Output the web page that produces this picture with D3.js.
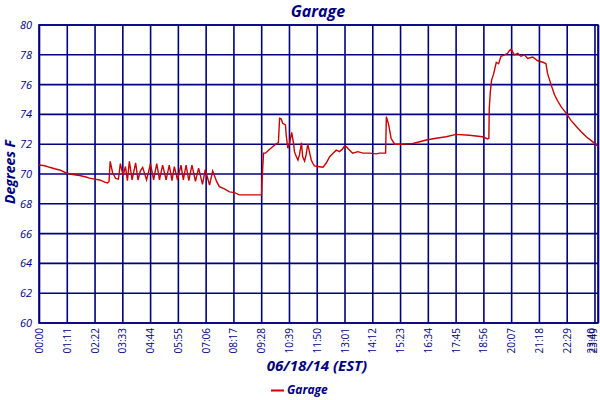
<!DOCTYPE html>
<html>
<head>
<meta charset="utf-8">
<script src="https://cdn.jsdelivr.net/npm/d3@7"></script>
<style>
  body { margin: 0; background: #fff; }
  text { font-family: "Open Sans", "DejaVu Sans", sans-serif; fill: #000080; }
</style>
</head>
<body>
<svg id="chart"></svg>
<script>
// readings of the garage sensor, 06/18/14
const times = [
  '00:00','00:15','00:27','00:40','00:53','01:11','01:30','01:44','02:00','02:09','02:22','02:35','02:48','02:55',
  '02:59','03:02','03:08','03:16','03:23','03:28','03:35','03:41','03:46','03:51','03:58','04:07','04:13','04:19',
  '04:25','04:35','04:45','04:53','05:01','05:08','05:16','05:25','05:33','05:40','05:46','05:54','06:03','06:09',
  '06:16','06:23','06:31','06:40','06:48','06:58','07:05','07:16','07:24','07:34','07:41','07:54','08:07','08:20',
  '08:32','08:58','09:29','09:30','09:34','09:39','09:49','09:58','10:06','10:12','10:15','10:19','10:23','10:30',
  '10:32','10:36','10:40','10:46','10:51','10:53','10:58','11:02','11:06','11:11','11:14','11:19','11:23','11:27',
  '11:32','11:36','11:40','11:44','11:57','12:06','12:14','12:23','12:31','12:40','12:48','12:55','13:01','13:05',
  '13:14','13:22','13:35','13:48','14:05','14:22','14:30','14:46','14:48','14:54','15:00','15:09','15:22','15:56',
  '16:30','16:55','17:21','17:46','18:20','18:54','19:07','19:10','19:11','19:14','19:17','19:22','19:29','19:35',
  '19:41','19:50','19:58','20:03','20:07','20:15','20:24','20:32','20:41','20:49','21:02','21:15','21:28','21:36',
  '21:40','21:49','21:58','22:06','22:15','22:27','22:40','22:53','23:06','23:19','23:35','23:48'
];
const garage = [
  70.6,70.55,70.45,70.35,70.27,70.05,69.95,69.9,69.8,69.72,69.66,69.6,69.45,69.4,
  69.5,70.85,70.1,69.7,69.65,70.7,69.9,70.5,69.55,70.85,69.6,70.75,69.6,70.2,
  70.45,69.6,70.7,69.6,70.7,69.6,70.6,69.6,70.6,69.55,70.5,69.6,70.6,69.6,
  70.6,69.55,70.6,69.5,70.4,69.3,70.3,69.25,70.2,69.5,69.15,69.0,68.8,68.75,
  68.6,68.6,68.6,69.5,71.4,71.4,71.65,71.85,72.0,72.1,73.74,73.7,73.4,73.3,
  72.6,71.73,72.0,72.8,72.0,71.5,71.16,70.94,71.3,72.1,71.16,70.87,71.3,72.0,
  71.4,70.94,70.72,70.54,70.49,70.46,70.72,71.16,71.38,71.6,71.5,71.65,71.88,71.85,
  71.6,71.4,71.5,71.4,71.4,71.35,71.4,71.4,73.85,73.3,72.4,72.0,72.0,72.05,
  72.28,72.4,72.5,72.66,72.6,72.5,72.35,72.4,74.4,75.6,76.3,76.7,77.5,77.4,
  77.9,78.0,78.1,78.3,78.37,78.0,78.1,77.9,78.0,77.76,77.85,77.6,77.5,77.4,
  76.75,76.0,75.3,74.9,74.5,74.1,73.6,73.2,72.84,72.5,72.17,71.88
];
const xTickLabels = ['00:00','01:11','02:22','03:33','04:44','05:55','07:06','08:17','09:28','10:39','11:50',
  '13:01','14:12','15:23','16:34','17:45','18:56','20:07','21:18','22:29','23:40','23:49'];
const yTicks = [60, 62, 64, 66, 68, 70, 72, 74, 76, 78, 80];

const toMin = s => { const p = s.split(':'); return +p[0] * 60 + +p[1]; };
const data = times.map((t, i) => ({ t: toMin(t), v: garage[i] }));

const width = 600, height = 400;
const margin = { top: 25, right: 2, bottom: 77, left: 39 };
const w = width - margin.left - margin.right;
const h = height - margin.top - margin.bottom;
const navy = '#000080';

const svg = d3.select('#chart').attr('width', width).attr('height', height);
const g = svg.append('g').attr('transform', `translate(${margin.left},${margin.top})`);

const x = d3.scaleLinear().domain([0, toMin('23:49')]).range([0, w]);
const y = d3.scaleLinear().domain([60, 80]).range([h, 0]);

// vertical grid + time labels
const xAxis = g.append('g')
  .attr('transform', `translate(0,${h})`)
  .call(d3.axisBottom(x)
    .tickValues(xTickLabels.map(toMin))
    .tickSize(h)
    .tickFormat((d, i) => xTickLabels[i]));
xAxis.select('.domain').remove();
xAxis.selectAll('line').attr('y2', -h).attr('stroke', navy).attr('stroke-width', 1.6);
const last = xTickLabels.length - 1;
// the last two labels crowd the right edge, nudge them inwards
xAxis.selectAll('text')
  .attr('transform', 'rotate(-90)')
  .attr('text-anchor', 'end')
  .attr('x', -5).attr('y', 0)
  .attr('dy', (d, i) => i === last ? '-0.2em' : (i === last - 1 ? '0.05em' : '0.35em'))
  .style('font-size', '10px')
  .style('fill', navy);

// horizontal grid + degree labels
const yAxis = g.append('g')
  .call(d3.axisLeft(y).tickValues(yTicks).tickSize(0).tickPadding(7));
yAxis.select('.domain').remove();
yAxis.selectAll('text')
  .style('font-size', '11px')
  .style('font-style', 'italic')
  .style('fill', navy);
g.append('g').selectAll('line')
  .data(yTicks)
  .enter()
  .append('line')
  .attr('x1', 0).attr('x2', w)
  .attr('y1', d => y(d)).attr('y2', d => y(d))
  .attr('stroke', navy).attr('stroke-width', 1.6);

// frame
g.append('rect')
  .attr('width', w).attr('height', h)
  .attr('fill', 'none').attr('stroke', navy).attr('stroke-width', 1.6);

// data line
const line = d3.line().x(d => x(d.t)).y(d => y(d.v));
g.append('path')
  .datum(data)
  .attr('d', line)
  .attr('fill', 'none')
  .attr('stroke', '#cc0000')
  .attr('stroke-width', 1.4);

// title
svg.append('text')
  .attr('x', 318).attr('y', 17)
  .attr('text-anchor', 'middle')
  .style('font-size', '16px').style('font-weight', 'bold').style('font-style', 'italic')
  .text('Garage');

// axis titles
svg.append('text')
  .attr('transform', 'translate(15,172) rotate(-90)')
  .attr('text-anchor', 'middle')
  .style('font-size', '14px').style('font-weight', 'bold').style('font-style', 'italic')
  .text('Degrees F');
svg.append('text')
  .attr('x', 317).attr('y', 371)
  .attr('text-anchor', 'middle')
  .style('font-size', '15px').style('font-weight', 'bold').style('font-style', 'italic')
  .text('06/18/14 (EST)');

// legend
svg.append('line')
  .attr('x1', 271).attr('x2', 284).attr('y1', 390.5).attr('y2', 390.5)
  .attr('stroke', '#cc0000').attr('stroke-width', 2);
svg.append('text')
  .attr('x', 287).attr('y', 394)
  .style('font-size', '12px').style('font-weight', 'bold').style('font-style', 'italic')
  .text('Garage');
</script>
</body>
</html>
